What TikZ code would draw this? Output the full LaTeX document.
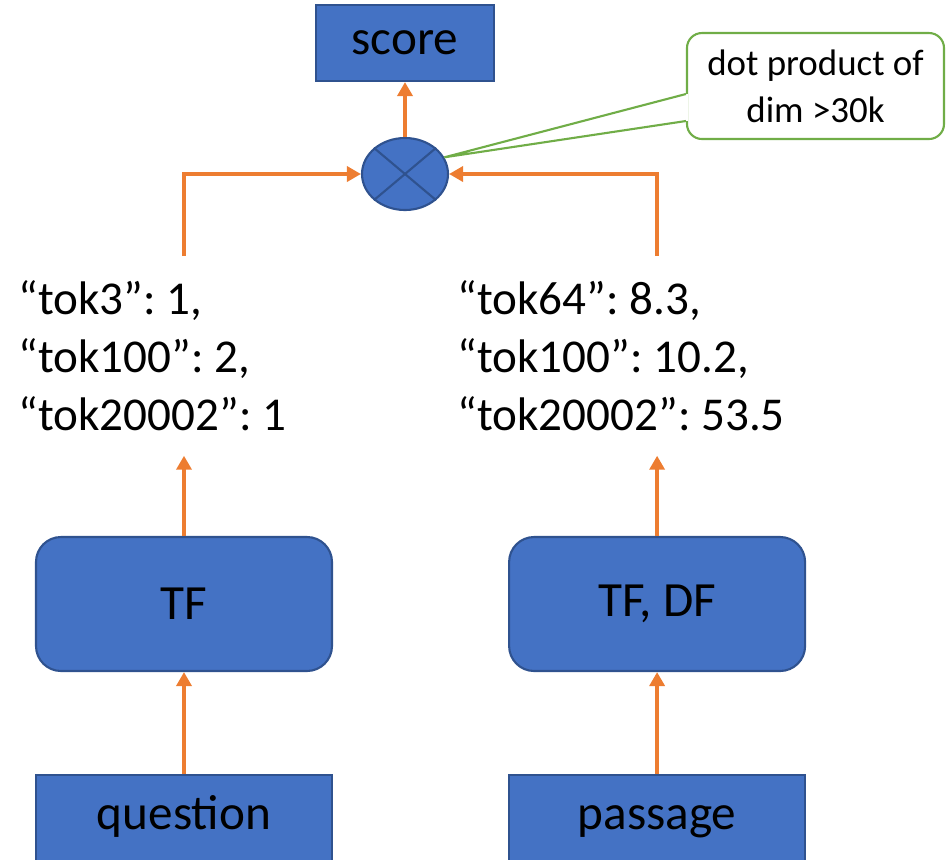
\documentclass[tikz,border=0pt]{standalone}
\usepackage{xcolor}
\usepackage{fontspec}
\setmainfont{Carlito}
\usepackage{tikz}
\usetikzlibrary{shapes.geometric, arrows.meta, positioning, calc}
\definecolor{boxblue}{RGB}{68,114,196}
\definecolor{edgeblue}{RGB}{47,82,143}
\definecolor{myorange}{RGB}{237,125,49}
\definecolor{mygreen}{RGB}{112,173,71}
\tikzset{
  inblock/.style={rectangle, draw=edgeblue, fill=boxblue,
    minimum width=2.96cm, minimum height=0.92cm, text height=0.7em, text depth=0.25em,
    font=\fontsize{14}{17}\selectfont, line width=0.6pt},
  scoreblock/.style={rectangle, draw=edgeblue, fill=boxblue,
    minimum width=1.78cm, minimum height=0.76cm,
    font=\fontsize{14}{17}\selectfont, line width=0.6pt},
  wtblock/.style={rectangle, draw=edgeblue, fill=boxblue,
    minimum width=2.96cm, minimum height=1.34cm,
    font=\fontsize{14}{17}\selectfont, rounded corners=0.25cm, line width=0.6pt},
  dotjunc/.style={ellipse, draw=edgeblue, fill=boxblue,
    minimum width=0.86cm, minimum height=0.72cm, inner sep=0pt, line width=0.6pt},
  veclist/.style={align=left, anchor=north west, inner xsep=0pt, inner ysep=0.24cm,
    font=\fontsize{13.4}{16.5}\selectfont\frenchspacing},
  note/.style={rectangle, draw=mygreen, fill=white, align=center,
    minimum width=2.57cm, minimum height=1.06cm, rounded corners=0.15cm,
    font=\fontsize{10.5}{13.3}\selectfont, line width=0.6pt},
  arrow/.style={-{Triangle[length=0.14cm, width=0.15cm]}, line width=0.04cm, color=myorange}
}
\begin{document}
\begin{tikzpicture}
  \clip (0,0) rectangle (9.46,-8.59);

  % Top: score and dot product
  \node[scoreblock] (score) at (4.05,-0.43) {score};
  \node[dotjunc] (dot) at (4.05,-1.74) {};
  \draw[edgeblue, line width=0.6pt] (dot.north west) -- (dot.south east)
    (dot.north east) -- (dot.south west);
  \node[note] (note) at (8.155,-0.86) {dot product of\\dim >30k};

  % Weighting blocks
  \node[wtblock] (tfq) at (1.84,-6.04) {TF};
  \node[wtblock, right=1.75cm of tfq] (tfdf) {TF, DF};

  % Inputs
  \node[inblock, below=1.02cm of tfq] (question) {question};
  \node[inblock, below=1.02cm of tfdf] (passage) {passage};

  % Sparse vectors
  \node[veclist] (qlist) at (0.18,-2.56) {“tok3”: 1,\\“tok100”: 2,\\“tok20002”: 1};
  \node[veclist] (plist) at (4.57,-2.56) {“tok64”: 8.3,\\“tok100”: 10.2,\\“tok20002”: 53.5};

  % Arrows
  \draw[arrow] (question) -- (tfq);
  \draw[arrow] (passage) -- (tfdf);
  \draw[arrow] (tfq) -- (tfq.north |- qlist.south);
  \draw[arrow] (tfdf) -- (tfdf.north |- plist.south);
  \draw[arrow] (qlist.north -| tfq.north) |- (dot.west);
  \draw[arrow] (plist.north -| tfdf.north) |- (dot.east);
  \draw[arrow] (dot) -- (score);

  % Callout pointer
  \fill[white] ($(note.west)+(-0.02,-0.08)$) rectangle ($(note.west)+(0.02,-0.35)$);
  \draw[mygreen, line width=0.6pt] ($(note.west)+(0,-0.08)$) -- (dot.23)
    -- ($(note.west)+(0,-0.35)$);
\end{tikzpicture}
\end{document}
